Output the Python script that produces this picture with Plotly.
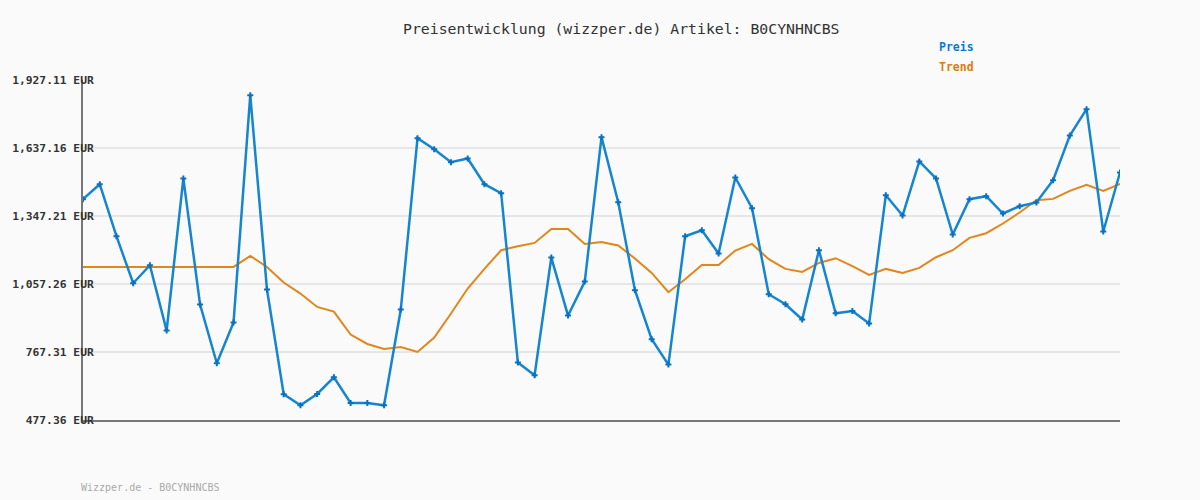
import plotly.graph_objects as go

preis = [1418.9, 1482.8, 1261.0, 1060.5, 1137.3, 858.7, 1507.2, 969.6, 719.2, 892.9,
         1862.5, 1033.6, 587.0, 540.1, 588.3, 659.5, 549.9, 549.9, 540.1, 948.3,
         1679.1, 1632.2, 1576.7, 1592.5, 1482.8, 1444.4, 722.2, 668.0, 1170.1, 922.7,
         1067.7, 1683.3, 1406.0, 1030.6, 821.6, 713.7, 1261.0, 1286.6, 1187.2, 1511.4,
         1380.4, 1013.6, 970.9, 905.7, 1201.3, 932.5, 942.4, 888.6, 1435.9, 1349.3,
         1579.7, 1507.2, 1268.3, 1418.9, 1431.7, 1357.8, 1389.0, 1404.8, 1499.9, 1690.6,
         1802.8, 1281.1, 1532.7]

trend = [1130.0, 1130.0, 1130.0, 1130.0, 1130.0, 1130.0, 1130.0, 1130.0, 1130.0, 1130.0,
         1177.0, 1130.0, 1063.5, 1016.6, 959.4, 939.8, 841.7, 801.6, 780.3, 788.8,
         767.5, 828.9, 931.3, 1037.9, 1121.6, 1201.3, 1218.4, 1232.5, 1292.2, 1292.2,
         1228.2, 1236.7, 1221.4, 1165.9, 1104.5, 1022.2, 1077.6, 1138.6, 1138.6, 1200.0,
         1228.2, 1162.9, 1121.6, 1108.8, 1147.1, 1167.2, 1133.1, 1096.0, 1121.6, 1104.5,
         1125.8, 1171.5, 1201.3, 1253.8, 1273.8, 1315.2, 1362.1, 1414.6, 1420.2, 1454.3,
         1479.9, 1454.3, 1484.2]

tick_vals = [477.36, 767.31, 1057.26, 1347.21, 1637.16, 1927.11]
tick_text = ["477.36 EUR", "767.31 EUR", "1,057.26 EUR", "1,347.21 EUR", "1,637.16 EUR", "1,927.11 EUR"]

title_text = "Preisentwicklung (wizzper.de) Artikel: B0CYNHNCBS"
footer_text = "Wizzper.de - B0CYNHNCBS"

x = list(range(len(preis)))
MONO = "DejaVu Sans Mono"
BLUE = "#1585d0"
ORANGE = "#e2861a"

fig = go.Figure()
fig.add_trace(go.Scatter(x=x, y=trend, mode="lines", name="Trend",
                         line=dict(color=ORANGE, width=2), showlegend=False))
fig.add_trace(go.Scatter(x=x, y=preis, mode="lines+markers", name="Preis",
                         line=dict(color=BLUE, width=2.5),
                         marker=dict(symbol="cross", size=5, color="#0a70c0"),
                         showlegend=False))

fig.update_layout(
    width=1200, height=500,
    margin=dict(l=80, r=80, t=80, b=80),
    paper_bgcolor="#fafafa", plot_bgcolor="#fafafa",
    xaxis=dict(range=[0, len(preis) - 1], showgrid=False, zeroline=False,
               showticklabels=False, ticks="", showline=True,
               linecolor="#777777", linewidth=2),
    yaxis=dict(range=[tick_vals[0], tick_vals[-1]], tickvals=tick_vals, ticktext=tick_text,
               showgrid=True, gridcolor="#e6e6e6", gridwidth=2, zeroline=False,
               showline=True, linecolor="#777777", linewidth=2, ticks="",
               ticklabelstandoff=-15,
               tickfont=dict(family=MONO, size=11.3, color="#333333", weight="bold")),
    annotations=[
        dict(text=title_text, x=399, y=28, showarrow=False,
             font=dict(family=MONO, size=14.8, color="#333333"),
             xanchor="left", yanchor="middle"),
        dict(text="Preis", x=936, y=47, showarrow=False,
             font=dict(family=MONO, size=11.5, color="#0a7cc8", weight="bold"),
             xanchor="left", yanchor="middle"),
        dict(text="Trend", x=936, y=67, showarrow=False,
             font=dict(family=MONO, size=11.5, color="#e07c0a", weight="bold"),
             xanchor="left", yanchor="middle"),
        dict(text=footer_text, x=76, y=487, showarrow=False,
             font=dict(family=MONO, size=10, color="#aaaaaa"),
             xanchor="left", yanchor="middle"),
    ],
)

# convert pixel positions of annotations to paper coords
pw, ph = 1200 - 160, 500 - 160
for a in fig.layout.annotations:
    a.xref = "paper"
    a.yref = "paper"
    a.x = (a.x - 80) / pw
    a.y = (420 - a.y) / ph

fig.write_html("out.html", config={"displayModeBar": False},
               post_script="document.body.style.margin='0';document.body.style.overflow='hidden';")
